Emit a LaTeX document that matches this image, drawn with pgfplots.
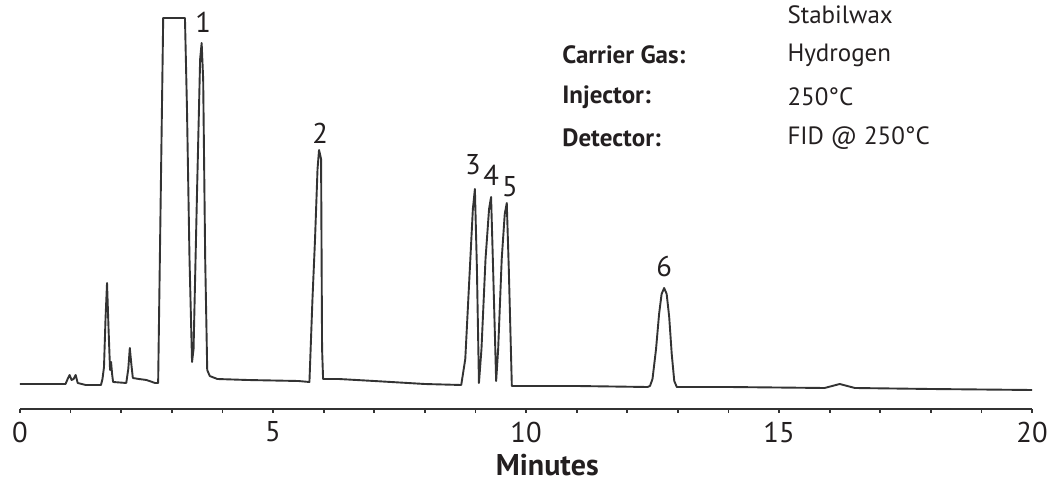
\documentclass[border=0pt]{standalone}
\usepackage{fontspec}
\setmainfont{PT Sans}
\usepackage{pgfplots}
\pgfplotsset{compat=1.18}
\definecolor{ink}{HTML}{231F20}
\definecolor{trace}{HTML}{333333}
\begin{document}
\begin{tikzpicture}[x=1pt,y=1pt]
\useasboundingbox (-10pt,-36pt) rectangle (514.5pt,204.5pt);
\begin{axis}[
  scale only axis,
  width=506pt, height=204.5pt,
  xmin=0, xmax=20, ymin=0, ymax=409,
  clip=false,
  hide y axis,
  axis x line=bottom,
  x axis line style={-, trace, line width=0.9pt},
  xtick={0,5,10,15,20},
  minor x tick num=4,
  tick align=outside,
  major tick length=2pt, minor tick length=2pt,
  tick style={trace, line width=0.9pt},
  xticklabel style={font=\fontsize{14.3}{16}\selectfont, text=ink, anchor=center, yshift=-9.5pt},
  /pgf/number format/assume math mode=true,
]
\addplot[trace, line width=0.95pt, line join=round] coordinates {
(0,25) (0.9,25) (0.95,31) (0.98,34) (1.02,29) (1.06,30) (1.10,34) (1.14,26)
(1.3,24) (1.6,24) (1.63,30) (1.66,42) (1.69,90) (1.72,126) (1.75,80) (1.78,39)
(1.80,47) (1.82,35) (1.84,27) (2.10,26) (2.14,40) (2.17,61) (2.20,45) (2.23,31)
(2.35,30) (2.5,29) (2.67,26) (2.73,26) (2.83,391) (3.26,391) (3.30,300) (3.35,150)
(3.40,47) (3.43,60) (3.50,220) (3.56,350) (3.59,366) (3.62,330) (3.66,150) (3.70,39)
(3.75,33) (3.9,30) (4.5,29) (5.5,28) (5.72,27) (5.78,110) (5.83,169) (5.88,240)
(5.91,259) (5.95,250) (5.97,60) (5.99,30) (6.3,30) (7.0,28) (8.0,25) (8.72,24)
(8.80,50) (8.88,130) (8.95,200) (8.99,220) (9.03,140) (9.07,26) (9.12,60) (9.20,150)
(9.27,200) (9.31,212) (9.35,140) (9.41,28) (9.45,60) (9.52,150) (9.58,195) (9.62,206)
(9.66,140) (9.72,23) (10.0,23) (11.0,23) (12.40,22) (12.45,23) (12.50,30) (12.57,60)
(12.63,95) (12.68,115) (12.73,121) (12.78,115) (12.83,92) (12.88,55) (12.93,28) (12.98,22)
(14.0,22) (15.9,21) (16.05,23) (16.2,25) (16.35,23) (16.5,21) (18,20) (20,19)
};
% peak labels
\begin{scope}[every node/.style={font=\fontsize{14.3}{16}\selectfont, text=ink}]
\node at (axis cs:3.62,387) {1};
\node at (axis cs:5.93,276) {2};
\node at (axis cs:8.95,244) {3};
\node at (axis cs:9.31,234) {4};
\node at (axis cs:9.68,222) {5};
\node at (axis cs:12.73,143) {6};
\end{scope}
% conditions
\begin{scope}[every node/.style={font=\fontsize{12.5}{14}\selectfont, text=ink, anchor=west, inner sep=0pt}]
\node at (axis cs:15.16,394) {Stabilwax};
\node[font=\fontsize{12.5}{14}\selectfont\bfseries] at (axis cs:10.71,354) {Carrier Gas:};
\node at (axis cs:15.16,354) {Hydrogen};
\node[font=\fontsize{12.5}{14}\selectfont\bfseries] at (axis cs:10.71,312) {Injector:};
\node at (axis cs:15.16,312) {250°C};
\node[font=\fontsize{12.5}{14}\selectfont\bfseries] at (axis cs:10.71,271) {Detector:};
\node at (axis cs:15.16,271) {FID @ 250°C};
\end{scope}
\node[font=\fontsize{15}{17}\selectfont\bfseries, text=ink, inner sep=0pt] at (axis cs:10.42,-56) {Minutes};
\end{axis}
\end{tikzpicture}
\end{document}
